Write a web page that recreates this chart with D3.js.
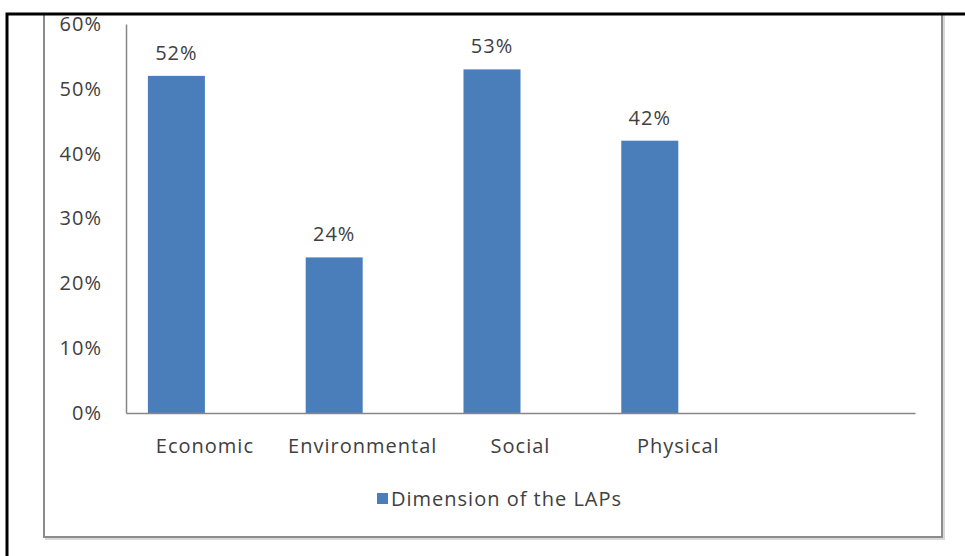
<!DOCTYPE html>
<html>
<head>
<meta charset="utf-8">
<script src="https://cdn.jsdelivr.net/npm/d3@7"></script>
<style>
  body { margin: 0; background: #fff; }
  svg text { font-family: "Open Sans", "Noto Sans", sans-serif; fill: #404040; letter-spacing: 1px; }
</style>
</head>
<body>
<svg width="965" height="556"></svg>
<script>
// categories (the last one is an empty slot, as in the original sheet)
var categories = ["Economic", "Environmental", "Social", "Physical", ""];
var seriesNames = ["Dimension of the LAPs", ""];
var values = [0.52, 0.24, 0.53, 0.42, null];
var yTicks = [0, 0.1, 0.2, 0.3, 0.4, 0.5, 0.6];

var svg = d3.select("svg"),
    margin = {top: 24, right: 50, bottom: 143, left: 126},
    width = 915 - margin.left,
    height = 413 - margin.top,
    fontSize = 20;

// chart area frame with a faint shadow
svg.append("rect")
  .attr("x", 46).attr("y", 0)
  .attr("width", 898).attr("height", 539)
  .attr("fill", "none")
  .attr("stroke", "#d8d8d8")
  .attr("stroke-width", 2);
svg.append("rect")
  .attr("x", 44).attr("y", 0)
  .attr("width", 898).attr("height", 537)
  .attr("fill", "#fff")
  .attr("stroke", "#8c8c8c")
  .attr("stroke-width", 2);

// white strip above the outer border
svg.append("rect").attr("x", 0).attr("y", 0).attr("width", 965).attr("height", 14).attr("fill", "#fff");

// outer black border
svg.append("rect")
  .attr("x", 7).attr("y", 14)
  .attr("width", 980).attr("height", 560)
  .attr("fill", "none")
  .attr("stroke", "#000")
  .attr("stroke-width", 3);

var g = svg.append("g").attr("transform", "translate(" + margin.left + "," + margin.top + ")");

var x0 = d3.scaleBand()
    .domain(categories)
    .range([0, width]);

var x1 = d3.scaleBand()
    .domain(seriesNames)
    .range([0, x0.bandwidth()])
    .paddingInner(0)
    .paddingOuter(0.384);

var y = d3.scaleLinear()
    .domain([0, 0.6])
    .range([height, 0]);

var fmt = d3.format(".0%");

// bars
var data = categories.map(function(c, i) { return {name: c, value: values[i]}; })
  .filter(function(d) { return d.value != null; });

g.append("g")
  .selectAll("rect")
  .data(data)
  .enter().append("rect")
    .attr("x", function(d) { return x0(d.name) + x1(seriesNames[0]); })
    .attr("y", function(d) { return y(d.value); })
    .attr("width", x1.bandwidth())
    .attr("height", function(d) { return height - y(d.value); })
    .attr("fill", "#4a7ebb");

// value labels
g.append("g")
  .selectAll("text")
  .data(data)
  .enter().append("text")
    .attr("x", function(d) { return x0(d.name) + x1(seriesNames[0]) + x1.bandwidth() / 2; })
    .attr("y", function(d) { return y(d.value) - 16; })
    .attr("text-anchor", "middle")
    .attr("font-size", fontSize)
    .text(function(d) { return fmt(d.value); });

// y axis
var yAxis = g.append("g")
  .call(d3.axisLeft(y).tickValues(yTicks).tickFormat(fmt).tickSize(0).tickPadding(24));
yAxis.select(".domain").attr("stroke", "#868686").attr("stroke-width", 1.5);
yAxis.selectAll("text").attr("font-size", fontSize).attr("fill", "#404040")
  .attr("font-family", "\"Open Sans\", sans-serif");

// x axis
var xAxis = g.append("g")
  .attr("transform", "translate(0," + height + ")")
  .call(d3.axisBottom(x0).tickSize(0).tickPadding(26));
xAxis.select(".domain").attr("stroke", "#868686").attr("stroke-width", 1.5);
xAxis.selectAll("text").attr("font-size", fontSize).attr("fill", "#404040")
  .attr("font-family", "\"Open Sans\", sans-serif");

// legend
var legend = svg.append("g").attr("transform", "translate(377,493)");
legend.append("rect")
  .attr("width", 11).attr("height", 11)
  .attr("fill", "#4a7ebb");
legend.append("text")
  .attr("x", 14).attr("y", 6)
  .attr("dy", "0.35em")
  .attr("font-size", fontSize)
  .text(seriesNames[0]);
</script>
</body>
</html>
